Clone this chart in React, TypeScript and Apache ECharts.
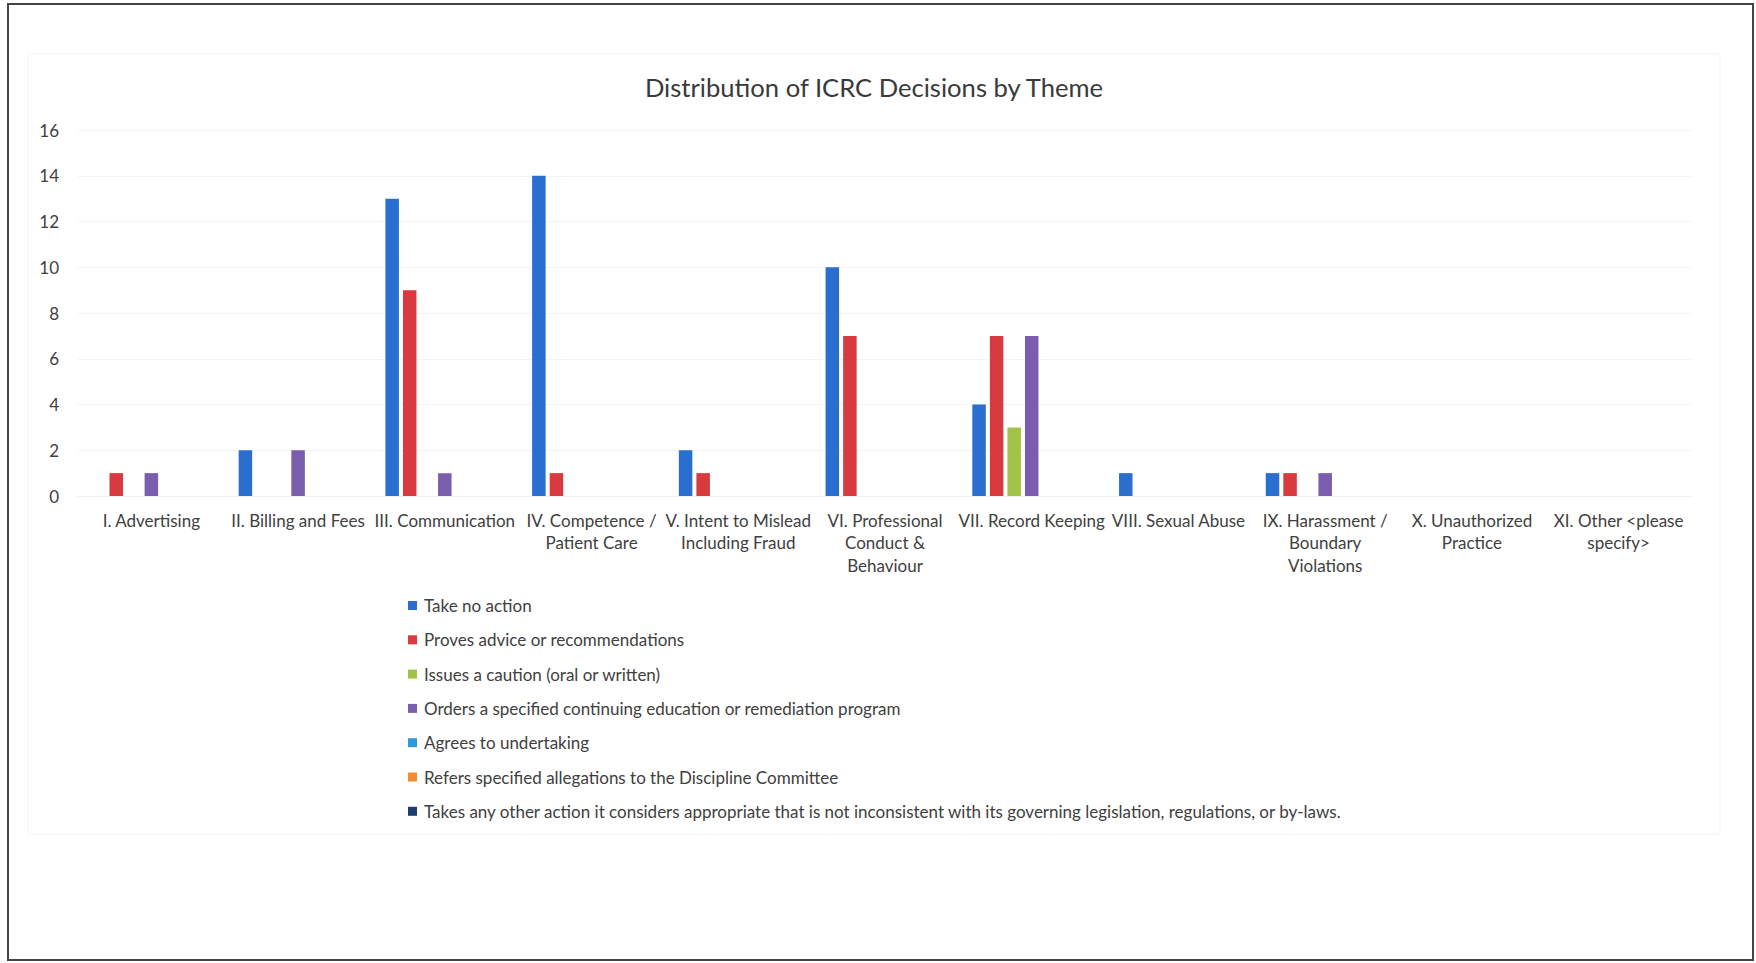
import React, { useEffect, useRef } from "react";
import * as echarts from "echarts";

const categories = [
  "I. Advertising",
  "II. Billing and Fees",
  "III. Communication",
  "IV. Competence /\nPatient Care",
  "V. Intent to Mislead\nIncluding Fraud",
  "VI. Professional\nConduct &\nBehaviour",
  "VII. Record Keeping",
  "VIII. Sexual Abuse",
  "IX. Harassment /\nBoundary\nViolations",
  "X. Unauthorized\nPractice",
  "XI. Other <please\nspecify>",
];

const seriesNames = [
  "Take no action",
  "Proves advice or recommendations",
  "Issues a caution (oral or written)",
  "Orders a specified continuing education or remediation program",
  "Agrees to undertaking",
  "Refers specified allegations to the Discipline Committee",
  "Takes any other action it considers appropriate that is not inconsistent with its governing legislation, regulations, or by-laws.",
];

const takeNoAction = [0, 2, 13, 14, 2, 10, 4, 1, 1, 0, 0];
const provesAdvice = [1, 0, 9, 1, 1, 7, 7, 0, 1, 0, 0];
const issuesCaution = [0, 0, 0, 0, 0, 0, 3, 0, 0, 0, 0];
const ordersEducation = [1, 2, 1, 0, 0, 0, 7, 0, 1, 0, 0];
const agreesUndertaking = [0, 0, 0, 0, 0, 0, 0, 0, 0, 0, 0];
const refersDiscipline = [0, 0, 0, 0, 0, 0, 0, 0, 0, 0, 0];
const takesOtherAction = [0, 0, 0, 0, 0, 0, 0, 0, 0, 0, 0];

const seriesValues = [
  takeNoAction,
  provesAdvice,
  issuesCaution,
  ordersEducation,
  agreesUndertaking,
  refersDiscipline,
  takesOtherAction,
];

const colors = ["#2a6fcf", "#d93a3f", "#a3c24a", "#7a5eae", "#2e9ad6", "#f58a35", "#1e3c72"];

const FONT = "Lato, 'Open Sans', sans-serif";

export default function App() {
  const ref = useRef<HTMLDivElement>(null);

  useEffect(() => {
    document.body.style.margin = "0";
    const chart = echarts.init(ref.current!, null, { renderer: "svg" });
    chart.setOption({
      animation: false,
      backgroundColor: "#ffffff",
      color: colors,
      textStyle: { fontFamily: FONT },
      title: {
        text: "Distribution of ICRC Decisions by Theme",
        left: 869,
        textAlign: "center",
        top: 69,
        textStyle: { fontFamily: FONT, fontSize: 25.6, fontWeight: "normal", color: "#3a3a3a" },
      },
      graphic: [
        {
          type: "rect",
          shape: { x: 8, y: 4, width: 1745, height: 956 },
          style: { fill: "none", stroke: "#444444", lineWidth: 2 },
          silent: true,
        },
        {
          type: "rect",
          shape: { x: 28, y: 54, width: 1692, height: 780 },
          style: { fill: "none", stroke: "#f3f3f3", lineWidth: 1 },
          silent: true,
        },
      ],
      legend: {
        orient: "vertical",
        left: 403,
        top: 592,
        itemWidth: 9,
        itemHeight: 9,
        itemGap: 17.3,
        icon: "rect",
        data: seriesNames,
        textStyle: { fontFamily: FONT, fontSize: 17, color: "#404040", padding: [0, 0, 0, 2] },
      },
      grid: { left: 78, right: 64, top: 130, bottom: 467, containLabel: false },
      xAxis: {
        type: "category",
        data: categories,
        axisTick: { show: false },
        axisLine: { show: true, lineStyle: { color: "#f0f0f0" } },
        axisLabel: {
          interval: 0,
          fontFamily: FONT,
          fontSize: 17,
          color: "#404040",
          lineHeight: 22.4,
          margin: 13,
        },
      },
      yAxis: {
        type: "value",
        min: 0,
        max: 16,
        interval: 2,
        axisLine: { show: false },
        axisTick: { show: false },
        splitLine: { lineStyle: { color: "#f4f4f4" } },
        axisLabel: { fontFamily: FONT, fontSize: 17, color: "#404040", margin: 19 },
      },
      series: seriesNames.map((name, i) => ({
        name,
        type: "bar",
        data: seriesValues[i],
        barGap: "30%",
        barCategoryGap: "19%",
      })),
    });
    return () => chart.dispose();
  }, []);

  return (
    <div
      ref={ref}
      style={{ position: "absolute", left: 0, top: 0, width: 1756, height: 963 }}
    />
  );
}
